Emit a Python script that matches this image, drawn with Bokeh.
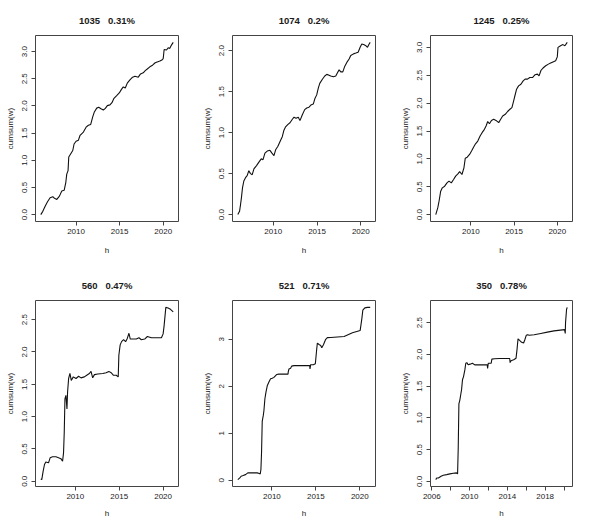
from bokeh.plotting import figure
from bokeh.models import Range1d, FixedTicker
from bokeh.layouts import gridplot
from bokeh.embed import file_html
from bokeh.resources import INLINE

NB = "\u00a0\u00a0\u00a0"
ids = ["1035", "1074", "1245", "560", "521", "350"]
rates = ["0.31%", "0.2%", "0.25%", "0.47%", "0.71%", "0.78%"]

# (h, cumsum(w)) pairs
s1035 = [(2005.95, 0.0), (2006.18, 0.06), (2006.45, 0.155), (2006.72, 0.236), (2007.02, 0.31),
         (2007.33, 0.33), (2007.52, 0.30), (2007.79, 0.28), (2008.09, 0.34), (2008.36, 0.435),
         (2008.63, 0.447), (2008.82, 0.59), (2008.93, 0.745), (2009.08, 0.81), (2009.16, 1.06),
         (2009.39, 1.12), (2009.62, 1.18), (2009.77, 1.30), (2010.0, 1.35), (2010.27, 1.37),
         (2010.46, 1.46), (2010.84, 1.52), (2011.15, 1.61), (2011.41, 1.645), (2011.68, 1.66),
         (2011.91, 1.80), (2012.1, 1.89), (2012.37, 1.96), (2012.6, 1.975), (2012.86, 1.95),
         (2013.13, 1.925), (2013.36, 1.955), (2013.59, 2.006), (2013.89, 2.02), (2014.12, 2.06),
         (2014.35, 2.14), (2014.66, 2.19), (2014.96, 2.24), (2015.19, 2.30), (2015.42, 2.35),
         (2015.65, 2.33), (2015.88, 2.42), (2016.18, 2.48), (2016.49, 2.53), (2016.76, 2.547),
         (2017.14, 2.53), (2017.4, 2.59), (2017.71, 2.61), (2017.94, 2.65), (2018.17, 2.68),
         (2018.47, 2.72), (2018.78, 2.75), (2019.08, 2.795), (2019.31, 2.81), (2019.62, 2.826),
         (2019.85, 2.845), (2020.0, 2.87), (2020.11, 3.04), (2020.38, 3.03), (2020.57, 3.07),
         (2020.76, 3.06), (2020.95, 3.12), (2021.15, 3.17)]

s1074 = [(2005.95, 0.0), (2006.15, 0.04), (2006.26, 0.12), (2006.37, 0.21), (2006.49, 0.33),
         (2006.64, 0.41), (2006.83, 0.45), (2007.02, 0.475), (2007.21, 0.536), (2007.40, 0.50),
         (2007.6, 0.487), (2007.79, 0.557), (2008.09, 0.598), (2008.36, 0.64), (2008.63, 0.68),
         (2008.82, 0.668), (2009.05, 0.75), (2009.31, 0.775), (2009.62, 0.784), (2009.85, 0.75),
         (2010.08, 0.72), (2010.27, 0.79), (2010.53, 0.833), (2010.84, 0.907), (2011.03, 0.95),
         (2011.22, 1.03), (2011.41, 1.07), (2011.68, 1.10), (2011.91, 1.12), (2012.18, 1.163),
         (2012.37, 1.188), (2012.6, 1.175), (2012.86, 1.188), (2013.05, 1.146), (2013.32, 1.217),
         (2013.59, 1.28), (2013.82, 1.30), (2014.08, 1.31), (2014.35, 1.34), (2014.58, 1.35),
         (2014.77, 1.42), (2014.96, 1.46), (2015.15, 1.546), (2015.31, 1.60), (2015.61, 1.65),
         (2015.88, 1.69), (2016.11, 1.71), (2016.37, 1.70), (2016.56, 1.69), (2016.87, 1.68),
         (2017.14, 1.69), (2017.33, 1.73), (2017.52, 1.765), (2017.71, 1.74), (2017.94, 1.74),
         (2018.17, 1.81), (2018.4, 1.856), (2018.66, 1.897), (2018.85, 1.94), (2019.16, 1.96),
         (2019.43, 1.97), (2019.69, 1.98), (2019.92, 2.04), (2020.11, 2.08), (2020.38, 2.07),
         (2020.57, 2.06), (2020.76, 2.04), (2020.95, 2.08), (2021.07, 2.10)]

s1245 = [(2005.94, 0.0), (2006.17, 0.12), (2006.32, 0.24), (2006.51, 0.42), (2006.7, 0.48),
         (2006.97, 0.51), (2007.24, 0.57), (2007.47, 0.60), (2007.74, 0.57), (2008.0, 0.63),
         (2008.24, 0.69), (2008.5, 0.73), (2008.7, 0.77), (2008.97, 0.72), (2009.2, 0.84),
         (2009.35, 1.01), (2009.58, 1.03), (2009.85, 1.08), (2010.08, 1.14), (2010.31, 1.21),
         (2010.54, 1.27), (2010.8, 1.32), (2011.07, 1.41), (2011.3, 1.47), (2011.57, 1.53),
         (2011.76, 1.59), (2011.95, 1.67), (2012.15, 1.63), (2012.38, 1.69), (2012.64, 1.71),
         (2012.91, 1.69), (2013.22, 1.65), (2013.45, 1.71), (2013.68, 1.77), (2013.98, 1.80),
         (2014.25, 1.85), (2014.52, 1.89), (2014.75, 1.92), (2014.9, 2.01), (2015.06, 2.11),
         (2015.29, 2.25), (2015.52, 2.31), (2015.79, 2.34), (2016.05, 2.40), (2016.28, 2.43),
         (2016.55, 2.43), (2016.82, 2.46), (2017.13, 2.46), (2017.43, 2.51), (2017.7, 2.52),
         (2017.89, 2.49), (2018.12, 2.59), (2018.35, 2.63), (2018.66, 2.67), (2018.97, 2.70),
         (2019.23, 2.72), (2019.5, 2.74), (2019.81, 2.76), (2020.0, 2.83), (2020.08, 3.00),
         (2020.38, 3.03), (2020.65, 3.05), (2020.88, 3.03), (2021.15, 3.09)]

s560 = [(2006.07, 0.036), (2006.18, 0.026), (2006.34, 0.156), (2006.49, 0.26), (2006.64, 0.297),
        (2006.95, 0.286), (2007.14, 0.365), (2007.4, 0.38), (2007.79, 0.38), (2008.09, 0.365),
        (2008.36, 0.35), (2008.55, 0.31), (2008.66, 0.44), (2008.74, 0.755), (2008.82, 1.276),
        (2008.93, 1.33), (2009.05, 1.12), (2009.12, 1.38), (2009.24, 1.59), (2009.39, 1.67),
        (2009.54, 1.56), (2009.77, 1.615), (2010.08, 1.59), (2010.38, 1.625), (2010.65, 1.60),
        (2011.03, 1.615), (2011.3, 1.64), (2011.6, 1.667), (2011.79, 1.70), (2011.98, 1.60),
        (2012.18, 1.65), (2012.56, 1.66), (2013.13, 1.667), (2013.51, 1.68), (2013.82, 1.70),
        (2014.08, 1.68), (2014.35, 1.64), (2014.66, 1.64), (2014.89, 1.615), (2014.96, 1.95),
        (2015.11, 2.11), (2015.27, 2.16), (2015.5, 2.19), (2015.73, 2.16), (2015.92, 2.21),
        (2016.11, 2.29), (2016.26, 2.20), (2016.56, 2.20), (2016.95, 2.20), (2017.25, 2.22),
        (2017.52, 2.19), (2017.9, 2.20), (2018.21, 2.24), (2018.66, 2.22), (2019.24, 2.22),
        (2019.81, 2.22), (2020.0, 2.28), (2020.11, 2.40), (2020.31, 2.69), (2020.57, 2.68),
        (2020.84, 2.66), (2021.15, 2.62)]

s521 = [(2006.12, 0.014), (2006.35, 0.05), (2006.5, 0.086), (2006.73, 0.10), (2007.0, 0.12),
        (2007.26, 0.157), (2007.57, 0.157), (2007.95, 0.157), (2008.33, 0.157), (2008.56, 0.143),
        (2008.67, 0.136), (2008.75, 0.23), (2008.82, 0.586), (2008.9, 1.26), (2009.01, 1.37),
        (2009.09, 1.48), (2009.2, 1.73), (2009.32, 1.87), (2009.47, 2.01), (2009.66, 2.09),
        (2009.85, 2.16), (2010.04, 2.17), (2010.23, 2.19), (2010.53, 2.25), (2010.8, 2.26),
        (2011.18, 2.26), (2011.56, 2.26), (2011.83, 2.26), (2011.86, 2.31), (2011.94, 2.37),
        (2012.13, 2.386), (2012.24, 2.43), (2012.51, 2.44), (2012.89, 2.44), (2013.46, 2.44),
        (2014.03, 2.44), (2014.3, 2.44), (2014.33, 2.37), (2014.41, 2.46), (2014.71, 2.46),
        (2014.94, 2.48), (2015.1, 2.80), (2015.17, 2.92), (2015.36, 2.89), (2015.55, 2.87),
        (2015.67, 2.82), (2015.86, 2.886), (2016.12, 3.0), (2016.31, 3.036), (2016.69, 3.04),
        (2017.45, 3.05), (2018.21, 3.06), (2019.16, 3.14), (2020.04, 3.19), (2020.23, 3.44),
        (2020.34, 3.62), (2020.57, 3.67), (2020.87, 3.68), (2021.18, 3.68)]

s350 = [(2006.42, 0.027), (2006.52, 0.053), (2006.7, 0.053), (2006.98, 0.08), (2007.22, 0.096),
        (2007.57, 0.106), (2007.92, 0.117), (2008.27, 0.128), (2008.62, 0.133), (2008.73, 0.117),
        (2008.8, 0.53), (2008.87, 1.22), (2008.97, 1.28), (2009.08, 1.38), (2009.15, 1.44),
        (2009.25, 1.60), (2009.36, 1.65), (2009.5, 1.755), (2009.6, 1.86), (2009.71, 1.87),
        (2009.85, 1.835), (2010.06, 1.846), (2010.3, 1.86), (2010.55, 1.835), (2011.07, 1.835),
        (2011.6, 1.835), (2011.87, 1.835), (2011.91, 1.78), (2011.98, 1.86), (2012.29, 1.86),
        (2012.36, 1.925), (2012.64, 1.93), (2013.17, 1.936), (2013.69, 1.936), (2014.25, 1.936),
        (2014.29, 1.87), (2014.39, 1.90), (2014.67, 1.915), (2014.92, 1.94), (2015.02, 2.07),
        (2015.13, 2.245), (2015.3, 2.22), (2015.51, 2.19), (2015.72, 2.18), (2015.86, 2.234),
        (2016.0, 2.30), (2016.14, 2.31), (2016.31, 2.30), (2016.84, 2.31), (2017.54, 2.33),
        (2018.24, 2.35), (2018.94, 2.37), (2020.06, 2.39), (2020.13, 2.33), (2020.16, 2.50),
        (2020.27, 2.71), (2020.34, 2.74)]

series = [s1035, s1074, s1245, s560, s521, s350]

x_ticks = [[2010, 2015, 2020]] * 5 + [[2006, 2008, 2010, 2012, 2014, 2016, 2018, 2020]]
x_labels_hidden = [[]] * 5 + [[2008, 2012, 2016, 2020]]
y_ticks = [[0, 0.5, 1.0, 1.5, 2.0, 2.5, 3.0],
           [0, 0.5, 1.0, 1.5, 2.0],
           [0, 0.5, 1.0, 1.5, 2.0, 2.5, 3.0],
           [0, 0.5, 1.0, 1.5, 2.0, 2.5],
           [0, 1, 2, 3],
           [0, 0.5, 1.0, 1.5, 2.0, 2.5]]
y_decimals = [1, 1, 1, 1, 0, 1]

# layout (pixels)
col_w = [197, 197, 180]
col_bl = [35, 35, 36]
col_br = [19, 19, 2]
row_h = [265, 255]
row_bt = [35, 35]
row_bb = [44, 34]
row_axis_standoff = [9, 7]

FONT = "Liberation Sans"
TXT = "#1a1a1a"


def pad_range(vals):
    lo, hi = min(vals), max(vals)
    d = hi - lo
    return Range1d(lo - 0.04 * d, hi + 0.04 * d)


figs = []
for i, s in enumerate(series):
    r, c = divmod(i, 3)
    hs = [a for a, b in s]
    ws = [b for a, b in s]
    p = figure(width=col_w[c], height=row_h[r], output_backend="svg",
               toolbar_location=None, x_range=pad_range(hs), y_range=pad_range(ws),
               min_border_left=col_bl[c], min_border_right=col_br[c],
               min_border_top=row_bt[r], min_border_bottom=row_bb[r],
               title=ids[i] + NB + rates[i])
    p.line(hs, ws, line_color="#111111", line_width=1.1)

    p.title.align = "center"
    p.title.text_font = FONT
    p.title.text_font_size = "9.5px"
    p.title.text_font_style = "bold"
    p.title.text_color = TXT
    p.title.standoff = 20

    p.grid.visible = False
    p.outline_line_color = "#444444"
    p.outline_line_width = 1
    p.outline_line_alpha = 1.0
    p.background_fill_color = "white"
    p.border_fill_color = "white"

    for ax in (p.xaxis[0], p.yaxis[0]):
        ax.axis_line_color = None
        ax.major_tick_out = 4
        ax.major_tick_in = 0
        ax.major_tick_line_color = "#444444"
        ax.minor_tick_line_color = None
        ax.major_label_text_font = FONT
        ax.major_label_text_font_size = "8px"
        ax.major_label_text_color = TXT
        ax.axis_label_text_font = FONT
        ax.axis_label_text_font_size = "8px"
        ax.axis_label_text_font_style = "normal"
        ax.axis_label_text_color = TXT

    xa = p.xaxis[0]
    xa.ticker = FixedTicker(ticks=x_ticks[i])
    xa.major_label_overrides = {t: ("" if t in x_labels_hidden[i] else str(t)) for t in x_ticks[i]}
    xa.axis_label = "h"
    xa.major_label_standoff = 3
    xa.axis_label_standoff = row_axis_standoff[r]

    ya = p.yaxis[0]
    ya.ticker = FixedTicker(ticks=y_ticks[i])
    ya.major_label_overrides = {t: f"{t:.{y_decimals[i]}f}" for t in y_ticks[i]}
    ya.major_label_orientation = "vertical"
    ya.axis_label = "cumsum(w)"
    ya.major_label_standoff = 4
    ya.axis_label_standoff = 5

    figs.append(p)

grid = gridplot([figs[0:3], figs[3:6]], toolbar_location=None, merge_tools=False)

open("out.html", "w").write(file_html(grid, INLINE))
